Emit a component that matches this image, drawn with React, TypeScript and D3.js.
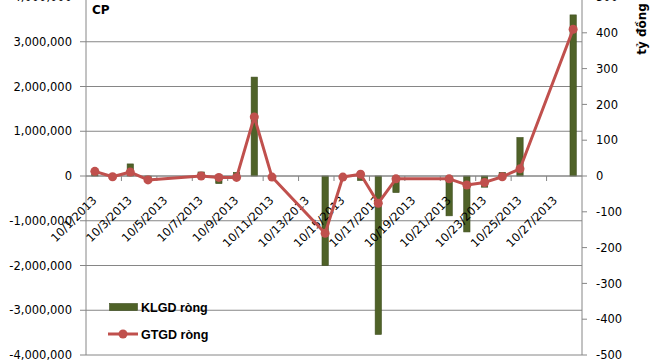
import React from "react";
import * as d3 from "d3";

const dates = [
  "10/1/2013", "10/2/2013", "10/3/2013", "10/4/2013",
  "10/7/2013", "10/8/2013", "10/9/2013", "10/10/2013", "10/11/2013",
  "10/14/2013", "10/15/2013", "10/16/2013", "10/17/2013", "10/18/2013",
  "10/21/2013", "10/22/2013", "10/23/2013", "10/24/2013", "10/25/2013",
  "10/28/2013",
];
const klgd = [
  40000, 10000, 270000, -50000,
  90000, -170000, 80000, 2210000, -20000,
  -2000000, -50000, -100000, -3540000, -370000,
  -890000, -1250000, -250000, 80000, 860000,
  3600000,
];
const gtgd = [
  13, -2, 11, -11,
  0, -4, -4, 165, -3,
  -160, -3, 5, -76, -8,
  -8, -25, -18, -2, 20,
  410,
];
const leftTicks = [-4000000, -3000000, -2000000, -1000000, 0, 1000000, 2000000, 3000000, 4000000];
const rightTicks = [-500, -400, -300, -200, -100, 0, 100, 200, 300, 400, 500];
const xTickLabels = [
  "10/1/2013", "10/3/2013", "10/5/2013", "10/7/2013", "10/9/2013", "10/11/2013", "10/13/2013",
  "10/15/2013", "10/17/2013", "10/19/2013", "10/21/2013", "10/23/2013", "10/25/2013", "10/27/2013",
];
const seriesNames = ["KLGD ròng", "GTGD ròng"];
const leftTitle = "CP";
const rightTitle = "tỷ đồng";

const W = 660, H = 360;
const L = 86, R = 582, T = -3, B = 355;
const GRID = "#868686";
const BAR = "#4F6228";
const LINE = "#C0504D";
const FONT = "'DejaVu Sans', sans-serif";

const dayOf = (s: string) => +s.split("/")[1];

export default function App() {
  const x = d3.scaleLinear().domain([0.5, 28.5]).range([L, R]);
  const yL = d3.scaleLinear().domain([-4000000, 4000000]).range([B, T]);
  const yR = d3.scaleLinear().domain([-500, 500]).range([B, T]);
  const f = d3.format(",");
  const fmt = (v: number) => f(v).replace("\u2212", "-");
  const y0 = yL(0);
  const barW = 6.3;
  const lineGen = d3
    .line<number>()
    .x((_, i) => x(dayOf(dates[i])))
    .y((d) => yR(d));
  const tickDays = d3.range(2, 28, 2);

  return (
    <svg
      width={W}
      height={H}
      style={{ position: "absolute", left: 0, top: 0, background: "#fff" }}
    >
      {leftTicks.map((t) => (
        <line key={"g" + t} x1={L} x2={R} y1={yL(t)} y2={yL(t)} stroke={GRID} strokeWidth={1} />
      ))}
      <line x1={L} x2={L} y1={T} y2={B} stroke={GRID} />
      {leftTicks.map((t) => (
        <g key={"l" + t}>
          <line x1={L - 6} x2={L} y1={yL(t)} y2={yL(t)} stroke={GRID} />
          <text
            x={72}
            y={yL(t)}
            dy="0.36em"
            textAnchor="end"
            fontFamily={FONT}
            fontSize={11.5}
            fill="#000"
          >
            {fmt(t)}
          </text>
        </g>
      ))}
      <line x1={R} x2={R} y1={T} y2={B} stroke={GRID} />
      {rightTicks.map((t) => (
        <g key={"r" + t}>
          <line x1={R} x2={R + 5} y1={yR(t)} y2={yR(t)} stroke={GRID} />
          <text
            x={596}
            y={yR(t)}
            dy="0.36em"
            textAnchor="start"
            fontFamily={FONT}
            fontSize={11.5}
            fill="#000"
          >
            {fmt(t)}
          </text>
        </g>
      ))}
      {klgd.map((v, i) => {
        const cx = x(dayOf(dates[i]));
        const y1 = yL(v);
        return (
          <rect
            key={"b" + i}
            x={cx - barW / 2}
            y={Math.min(y0, y1)}
            width={barW}
            height={Math.abs(y1 - y0)}
            fill={BAR}
            stroke="#3E4E1F"
            strokeWidth={0.6}
          />
        );
      })}
      <line x1={L} x2={R} y1={y0} y2={y0} stroke={GRID} />
      {tickDays.map((d) => (
        <line key={"xt" + d} x1={x(d + 0.5)} x2={x(d + 0.5)} y1={y0} y2={y0 + 5} stroke={GRID} />
      ))}
      {xTickLabels.map((s) => {
        const px = x(dayOf(s)) + 2.5;
        const py = y0 + 25;
        return (
          <text
            key={"xl" + s}
            transform={`translate(${px},${py}) rotate(-45)`}
            textAnchor="end"
            fontFamily={FONT}
            fontSize={11.5}
            fill="#000"
          >
            {s}
          </text>
        );
      })}
      <path d={lineGen(gtgd) || ""} fill="none" stroke={LINE} strokeWidth={3} strokeLinejoin="round" />
      {gtgd.map((v, i) => (
        <circle key={"m" + i} cx={x(dayOf(dates[i]))} cy={yR(v)} r={4.5} fill={LINE} />
      ))}
      <text x={92} y={14} fontFamily={FONT} fontWeight="bold" fontSize={12} fill="#000">
        {leftTitle}
      </text>
      <text
        transform="translate(646,29) rotate(-90)"
        textAnchor="middle"
        fontFamily={FONT}
        fontWeight="bold"
        fontSize={12}
        fill="#000"
      >
        {rightTitle}
      </text>
      <rect x={109.5} y={303.5} width={28} height={7} fill={BAR} stroke="#3E4E1F" strokeWidth={0.6} />
      <text x={141} y={311.5} fontFamily="'Liberation Sans', sans-serif" fontWeight="bold" fontSize={12.5} fill="#000">
        {seriesNames[0]}
      </text>
      <line x1={108} x2={138} y1={334} y2={334} stroke={LINE} strokeWidth={3} />
      <circle cx={123} cy={334} r={4.5} fill={LINE} />
      <text x={141} y={339} fontFamily="'Liberation Sans', sans-serif" fontWeight="bold" fontSize={12.5} fill="#000">
        {seriesNames[1]}
      </text>
    </svg>
  );
}
